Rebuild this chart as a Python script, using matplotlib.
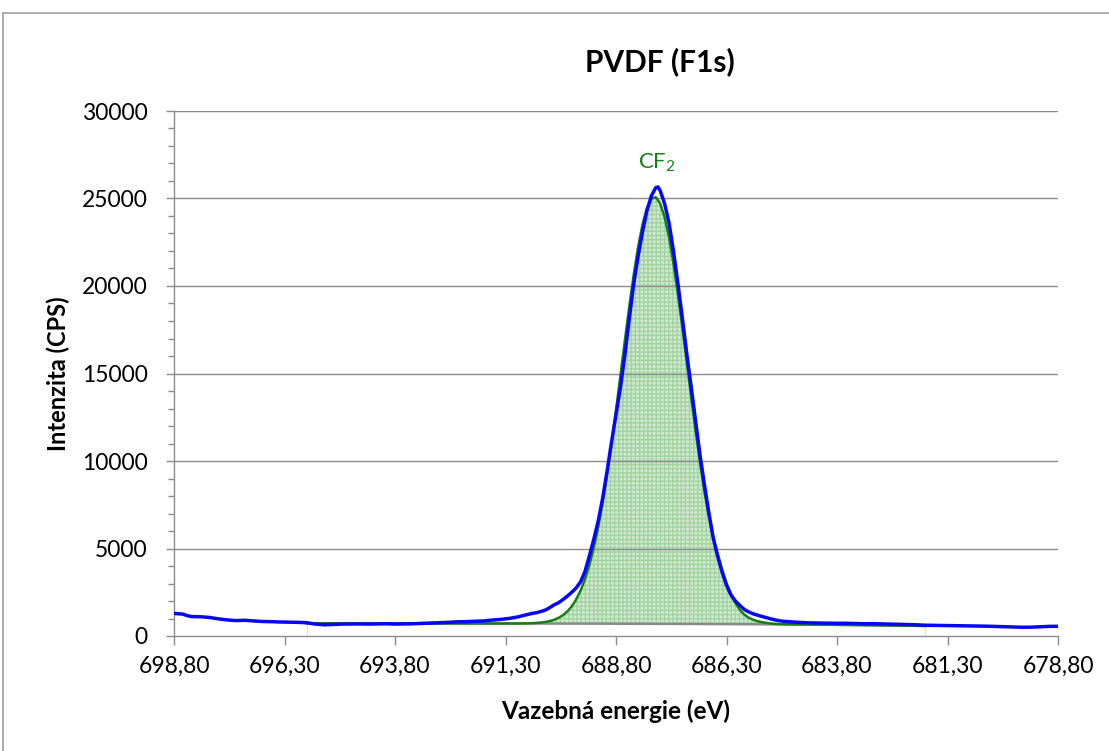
import numpy as np
import matplotlib
matplotlib.use("Agg")
import matplotlib.pyplot as plt
from matplotlib.lines import Line2D

plt.rcParams['font.family'] = ['Lato', 'DejaVu Sans']
plt.rcParams['mathtext.fontset'] = 'custom'
plt.rcParams['mathtext.rm'] = 'Lato'
plt.rcParams['mathtext.it'] = 'Lato:italic'
plt.rcParams['mathtext.bf'] = 'Lato:bold'

# ---------------- data ----------------
# measured spectrum (blue)
spec_E = [698.8, 698.6, 698.5, 698.4, 698.2, 698.0, 697.8, 697.6, 697.4, 697.2, 697.0,
          696.8, 696.6, 696.4, 696.2, 696.0, 695.8, 695.6, 695.4, 695.2, 695.0, 694.8,
          694.6, 694.4, 694.2, 694.0, 693.8, 693.6, 693.4, 693.2, 693.0, 692.8, 692.6,
          692.4, 692.2, 692.0, 691.8, 691.6, 691.4, 691.2,
          691.0, 690.9, 690.8, 690.7, 690.6, 690.5, 690.4, 690.3, 690.2, 690.1,
          690.0, 689.9, 689.8, 689.7, 689.6, 689.5, 689.4, 689.3, 689.2, 689.1,
          689.0, 688.9, 688.8, 688.7, 688.6, 688.5, 688.4, 688.3, 688.2, 688.1,
          688.0, 687.9, 687.85, 687.8, 687.7, 687.6, 687.5, 687.4, 687.3, 687.2, 687.1,
          687.0, 686.9, 686.8, 686.7, 686.6, 686.5, 686.4, 686.3, 686.2, 686.1,
          686.0, 685.9, 685.8, 685.7, 685.6, 685.5, 685.4, 685.3, 685.2, 685.1,
          685.0, 684.8, 684.6, 684.4, 684.2, 684.0, 683.8, 683.6, 683.4, 683.2,
          683.0, 682.8, 682.6, 682.4, 682.2, 682.0, 681.8, 681.6, 681.4, 681.2,
          681.0, 680.8, 680.6, 680.4, 680.2, 680.0, 679.8, 679.6, 679.4, 679.2,
          679.0, 678.8]
spec_I = [1290, 1250, 1160, 1110, 1100, 1060, 980, 920, 880, 900, 860,
          830, 820, 800, 790, 780, 760, 680, 640, 660, 680, 685,
          690, 680, 690, 700, 680, 690, 700, 720, 740, 760, 780,
          810, 820, 840, 860, 910, 950, 1010,
          1100, 1170, 1230, 1290, 1330, 1400, 1480, 1620, 1780, 1900,
          2080, 2280, 2500, 2750, 3100, 3700, 4600, 5550, 6600, 7900,
          9450, 11100, 12650, 14200, 16040, 18130, 20100, 21700, 23100, 24300,
          25150, 25620, 25660, 25450, 24700, 23600, 22000, 20150, 18200, 16150, 14250,
          12300, 10350, 8650, 7050, 5600, 4550, 3650, 2900, 2350, 2000,
          1750, 1520, 1380, 1270, 1190, 1120, 1050, 980, 920, 870,
          840, 800, 770, 750, 740, 730, 725, 726, 715, 700,
          705, 690, 680, 670, 655, 640, 615, 610, 600, 590,
          585, 578, 571, 560, 545, 530, 520, 500, 505, 530,
          550, 554]

# fitted CF2 component (green, incl. background)
fit_E = [695.8, 695.0, 694.0, 693.0, 692.0, 691.5,
         691.0, 690.9, 690.8, 690.7, 690.6, 690.5, 690.4, 690.3, 690.2, 690.1,
         690.0, 689.9, 689.8, 689.7, 689.6, 689.5, 689.4, 689.3, 689.2, 689.1,
         689.0, 688.9, 688.8, 688.7, 688.6, 688.5, 688.4, 688.3, 688.2, 688.1,
         688.0, 687.9, 687.8, 687.7, 687.6, 687.5, 687.4, 687.3, 687.2, 687.1,
         687.0, 686.9, 686.8, 686.7, 686.6, 686.5, 686.4, 686.3, 686.2, 686.1,
         686.0, 685.9, 685.8, 685.7, 685.6, 685.5, 685.4, 685.3, 685.2, 685.1,
         685.0, 684.5, 684.0, 683.0, 682.0, 681.8]
fit_I = [728, 725, 722, 718, 715, 714,
         716, 720, 724, 733, 746, 768, 801, 852, 926, 1035,
         1190, 1406, 1699, 2091, 2603, 3259, 4077, 5077, 6276, 7672,
         9257, 11010, 12900, 14878, 16876, 18820, 20629, 22222, 23519, 24458,
         24984, 25073, 24716, 23937, 22775, 21290, 19555, 17653, 15666, 13672,
         11738, 9922, 8261, 6850, 5650, 4700, 3800, 3020, 2400, 1900,
         1500, 1230, 1050, 930, 850, 790, 750, 715, 695, 680,
         670, 660, 645, 614, 581, 575]

# background line (grey)
bg_E = [695.8, 691.0, 689.0, 687.0, 685.0, 683.5, 681.8]
bg_I = [728, 714, 704, 688, 662, 632, 575]

x_ticks = [698.8, 696.3, 693.8, 691.3, 688.8, 686.3, 683.8, 681.3, 678.8]
x_ticklabels = ['698,80', '696,30', '693,80', '691,30', '688,80', '686,30',
                '683,80', '681,30', '678,80']
y_ticks = [0, 5000, 10000, 15000, 20000, 25000, 30000]

# ---------------- figure ----------------
W, H = 1109, 751
fig = plt.figure(figsize=(W / 100, H / 100), dpi=100)
ax = fig.add_axes([174 / W, 1 - 636 / H, (1058 - 174) / W, (636 - 111) / H])

ax.set_xlim(698.8, 678.8)
ax.set_ylim(0, 30000)

# fill of the component
poly_x = list(fit_E) + list(bg_E[::-1])
poly_y = list(fit_I) + list(bg_I[::-1])
ax.fill(poly_x, poly_y, facecolor='#cfe9cf', edgecolor='#a3d3a3',
        hatch='++++', linewidth=0, zorder=1)
# faint edges of area
for e, b in ((bg_E[0], bg_I[0]), (bg_E[-1], bg_I[-1])):
    ax.plot([e, e], [0, b], color='#dde9dd', lw=0.8, zorder=1)

# gridlines
for yv in y_ticks[1:]:
    ax.axhline(yv, color='#8c8c8c', lw=1.0, zorder=1.5)

ax.plot(bg_E, bg_I, color='#8a8a8a', lw=1.8, zorder=2)
ax.plot(fit_E, fit_I, color='#138013', lw=1.8, zorder=2.5)
ax.plot(spec_E, spec_I, color='#0707f5', lw=2.5, zorder=3)

# spines / ticks
for s in ('top', 'right'):
    ax.spines[s].set_visible(False)
for s in ('left', 'bottom'):
    ax.spines[s].set_color('#8c8c8c')
    ax.spines[s].set_linewidth(1.0)

ax.set_xticks(x_ticks)
ax.set_xticklabels(x_ticklabels)
ax.set_yticks(y_ticks)
ax.set_yticklabels([str(v) for v in y_ticks])
ax.set_yticks(np.arange(0, 30001, 1000), minor=True)
ax.tick_params(axis='y', which='major', direction='out', length=6, width=1.0,
               color='#8c8c8c', pad=13, labelsize=16.5, labelcolor='black')
ax.tick_params(axis='y', which='minor', direction='out', length=4.5, width=1.0,
               color='#8c8c8c')
ax.tick_params(axis='x', which='major', direction='out', length=6.5, width=1.0,
               color='#8c8c8c', pad=8, labelsize=16.5, labelcolor='black')

# labels
fig.text(616 / W, 1 - 711 / H, 'Vazebná energie (eV)', ha='center', va='center',
         fontsize=17.5, fontweight='bold')
fig.text(58 / W, 1 - 374 / H, 'Intenzita (CPS)', ha='center', va='center',
         rotation=90, fontsize=17, fontweight='bold')
fig.text(660 / W, 1 - 62 / H, 'PVDF (F1s)', ha='center', va='center',
         fontsize=21.5, fontweight='bold')
ax.text(687.88, 26700, 'CF$_\\mathregular{2}$', color='#138013', ha='center',
        va='baseline', fontsize=16)

# outer border of chart area
fig.add_artist(Line2D([3 / W, 3 / W], [1 - 13 / H, 0], transform=fig.transFigure,
                      color='#a0a0a0', lw=1.2))
fig.add_artist(Line2D([3 / W, 1], [1 - 13 / H, 1 - 13 / H], transform=fig.transFigure,
                      color='#a0a0a0', lw=1.2))

fig.savefig('out.png', dpi=100)
